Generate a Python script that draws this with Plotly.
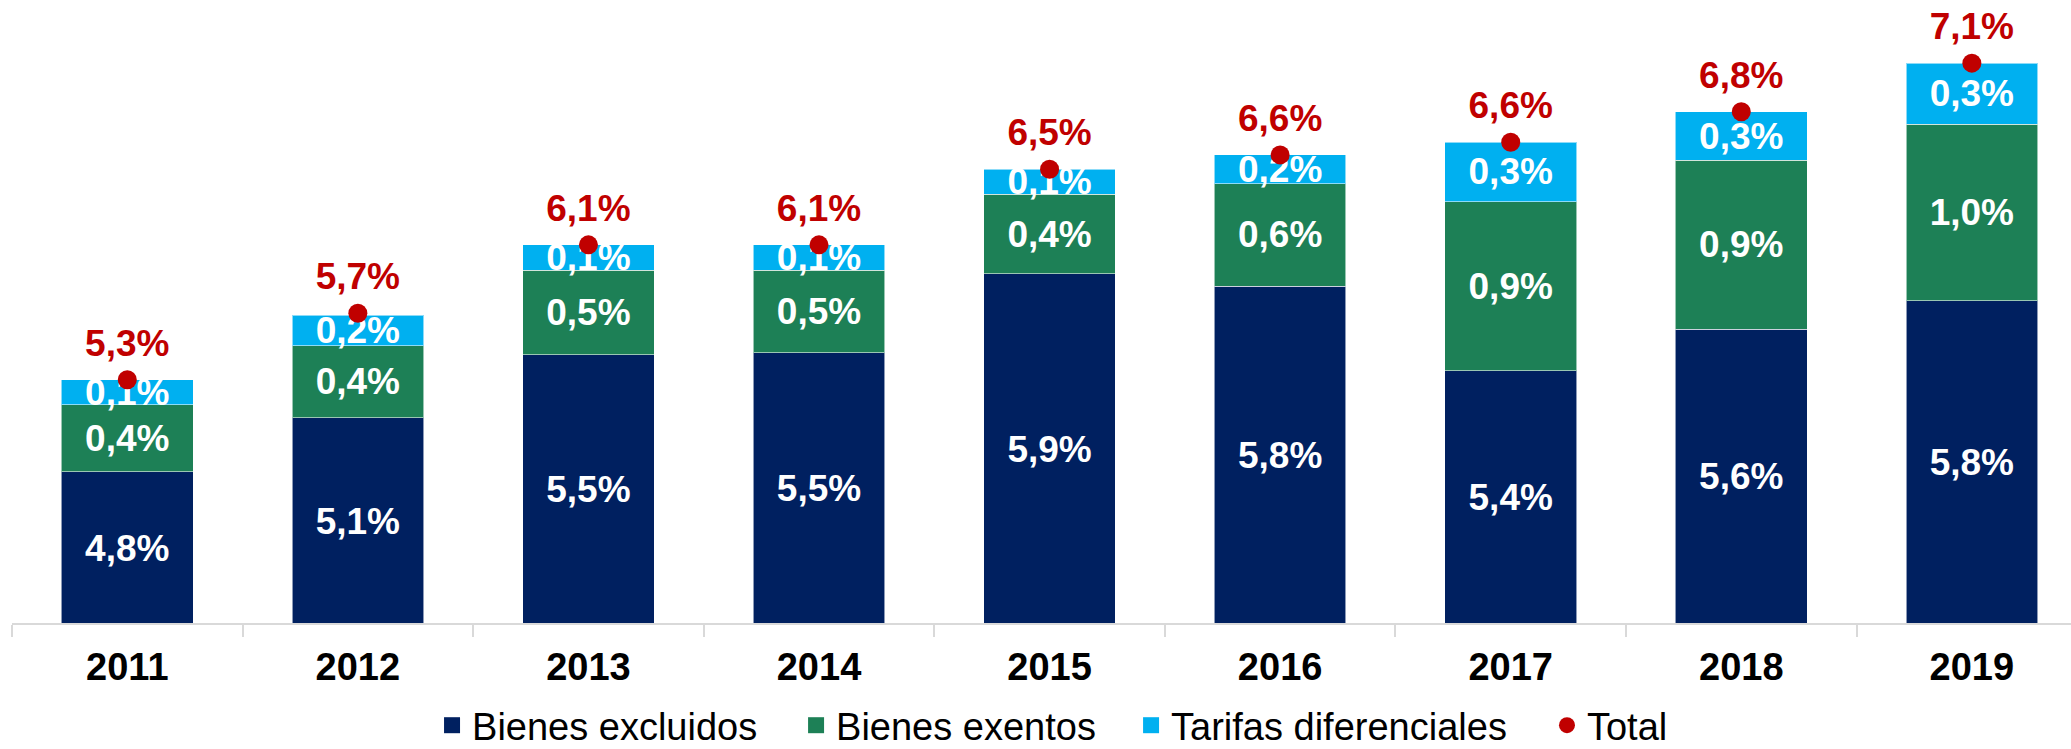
import plotly.graph_objects as go

years = ["2011", "2012", "2013", "2014", "2015", "2016", "2017", "2018", "2019"]
bienes_excluidos = [4.81, 5.11, 5.46, 5.47, 5.91, 5.84, 5.37, 5.60, 5.76]
bienes_exentos = [0.37, 0.40, 0.47, 0.46, 0.44, 0.57, 0.94, 0.94, 0.98]
tarifas_diferenciales = [0.14, 0.17, 0.14, 0.14, 0.14, 0.16, 0.33, 0.27, 0.34]
total = [5.32, 5.69, 6.07, 6.07, 6.49, 6.57, 6.64, 6.81, 7.08]

NAVY = "#002060"
GREEN = "#1D8056"
LIGHTBLUE = "#00B0F0"
RED = "#C00000"
FONT = "Liberation Sans, Arial, sans-serif"
YMIN, YMAX = 3.968, 7.431
PX = (YMAX - YMIN) / 623.0  # data units per pixel on the value axis


def pct(v):
    return f"{v:.1f}%".replace(".", ",")


fig = go.Figure()

seg_font = dict(family=FONT, size=37, color="white", weight="bold")
series = [
    ("Bienes excluidos", bienes_excluidos, NAVY, "legend", False),
    ("Bienes exentos", bienes_exentos, GREEN, "legend2", True),
    ("Tarifas diferenciales", tarifas_diferenciales, LIGHTBLUE, "legend3", True),
]
for name, vals, col, lg, show_text in series:
    kw = {}
    if show_text:
        kw = dict(text=[pct(v) for v in vals], textposition="inside",
                  insidetextanchor="middle", constraintext="none", textfont=seg_font)
    fig.add_trace(go.Bar(
        x=years, y=vals, name=name,
        marker=dict(color=col, line=dict(color="rgba(255,255,255,0.55)", width=1)),
        cliponaxis=False,
        showlegend=False,
        hoverinfo="skip",
        **kw,
    ))

# labels of the navy segment, centred on its visible part (axis starts above 0)
fig.add_trace(go.Scatter(
    x=years, y=[(YMIN + v) / 2 - 4 * PX for v in bienes_excluidos],
    mode="text", text=[pct(v) for v in bienes_excluidos],
    textposition="middle center", textfont=seg_font,
    showlegend=False, hoverinfo="skip", cliponaxis=False,
))

# total dots
fig.add_trace(go.Scatter(
    x=years, y=total, name="Total",
    mode="markers",
    marker=dict(color=RED, size=19),
    cliponaxis=False,
    showlegend=False,
    hoverinfo="skip",
))
# total labels (invisible marker only sets the text offset above the dot)
fig.add_trace(go.Scatter(
    x=years, y=total, mode="markers+text",
    marker=dict(color="rgba(0,0,0,0)", size=22),
    text=[pct(v) for v in total], textposition="top center",
    textfont=dict(family=FONT, size=37, color=RED, weight="bold"),
    showlegend=False, hoverinfo="skip", cliponaxis=False,
))

# legend entries (larger square / round symbols like the original)
for name, _, col, lg, _ in series:
    fig.add_trace(go.Scatter(x=[None], y=[None], mode="markers", name=name,
                             marker=dict(color=col, size=19, symbol="square"),
                             legend=lg, hoverinfo="skip"))
fig.add_trace(go.Scatter(x=[None], y=[None], mode="markers", name="Total",
                         marker=dict(color=RED, size=19, symbol="circle"),
                         legend="legend4", hoverinfo="skip"))

leg_common = dict(orientation="h", yanchor="bottom", y=-134 / 623, xanchor="left",
                  font=dict(family=FONT, size=38, color="#000000"),
                  bgcolor="rgba(0,0,0,0)", borderwidth=0)

fig.update_layout(
    width=2071, height=749,
    barmode="stack", bargap=0.429,
    separators=",.",
    plot_bgcolor="white", paper_bgcolor="white",
    margin=dict(l=12, r=0, t=0, b=126, autoexpand=False),
    showlegend=True,
    legend=dict(x=0.204, **leg_common),
    legend2=dict(x=0.3808, **leg_common),
    legend3=dict(x=0.5435, **leg_common),
    legend4=dict(x=0.7455, **leg_common),
    xaxis=dict(
        type="category", range=[-0.5, 8.43],
        showline=True, linecolor="#D9D9D9", linewidth=2,
        ticks="outside", tickson="boundaries", ticklen=12, tickwidth=2, tickcolor="#D9D9D9",
        tickfont=dict(family=FONT, size=38, color="#000000", weight="bold"),
        ticklabelstandoff=9,
        showgrid=False, zeroline=False,
    ),
    yaxis=dict(range=[YMIN, YMAX], visible=False, showgrid=False, zeroline=False),
)

fig.write_html("out.html", config={"displayModeBar": False},
               post_script="document.body.style.margin='0';document.body.style.overflow='hidden';")
